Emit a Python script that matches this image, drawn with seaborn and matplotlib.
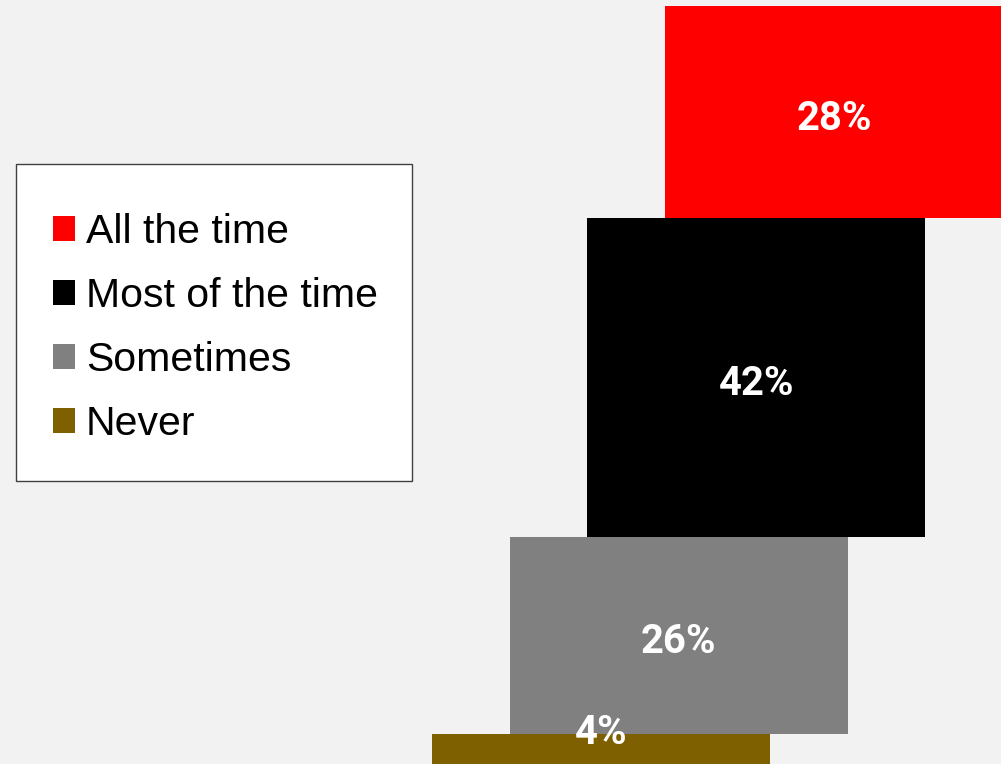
import matplotlib
matplotlib.use("Agg")
import matplotlib.pyplot as plt
from matplotlib.patches import Patch, Rectangle
import seaborn as sns
import numpy as np

categories = ["All the time", "Most of the time", "Sometimes", "Never"]
values = [28, 42, 26, 4]
labels = ["28%", "42%", "26%", "4%"]
colors = ["#ff0000", "#000000", "#808080", "#7f6000"]

sns.set_theme(style="white")
plt.rcParams["font.family"] = ["Liberation Sans", "DejaVu Sans"]

W, H = 1001, 764
fig = plt.figure(figsize=(W / 100, H / 100), dpi=100, facecolor="#f2f2f2")
ax = fig.add_axes([0, 0, 1, 1])
ax.set_facecolor("#f2f2f2")

n = len(values)
# stacked bottoms: last category at the bottom
bottoms = []
acc = 0
for v in values[::-1]:
    bottoms.append(acc)
    acc += v
bottoms = bottoms[::-1]
# horizontal step: bottom category leftmost
lefts = [n - 1 - i for i in range(n)]
width = 4.35

ax.bar(lefts, values, width=width, bottom=bottoms, align="edge",
       color=colors, edgecolor="none", linewidth=0)

px_per_unit_y = 758 / 100
cap_half = 14.2 / px_per_unit_y
for i, (v, b, l) in enumerate(zip(values, bottoms, lefts)):
    yc = max(b + v / 2, 5.0) - 0.5
    ax.text(l + width / 2, yc - cap_half, labels[i], ha="center", va="baseline",
            color="white", fontsize=28.8, fontweight="bold",
            family=["Roboto", "DejaVu Sans"])

step_px = 77.67
ax.set_xlim(-432 / step_px, (W - 432) / step_px)
ax.set_ylim(0, 100 * H / 758)
ax.axis("off")

# legend box
ax.add_patch(Rectangle((16 / W, 1 - 481 / H), (412 - 16) / W, (481 - 164) / H,
                       transform=fig.transFigure, facecolor="white", clip_on=False,
                       edgecolor="#404040", linewidth=1.0, zorder=3))

handles = [Patch(facecolor=c, edgecolor="none", label=cat) for c, cat in zip(colors, categories)]
leg = ax.legend(handles=handles, loc="upper left",
                bbox_to_anchor=(53 / W, 1 - 213 / H), bbox_transform=fig.transFigure,
                borderaxespad=0, fontsize=29.5, frameon=False, labelcolor="black",
                handlelength=0.537, handleheight=0.537, handletextpad=0.27,
                labelspacing=0.634, borderpad=0)
leg.set_zorder(6)

fig.savefig("out.png", dpi=100, facecolor="#f2f2f2")
